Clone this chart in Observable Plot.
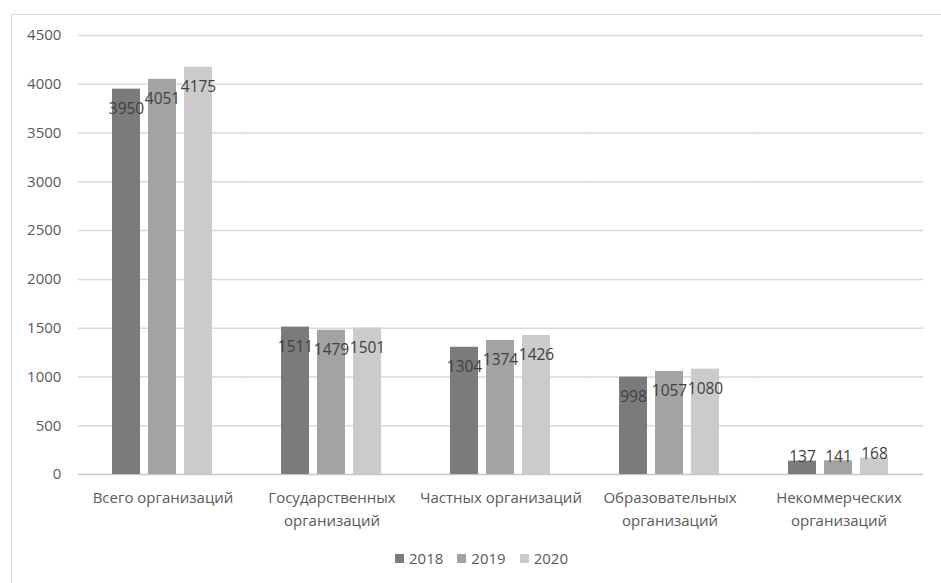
<!DOCTYPE html>
<html>
<head>
<meta charset="utf-8">
<script src="https://cdn.jsdelivr.net/npm/d3@7"></script>
<script src="https://cdn.jsdelivr.net/npm/@observablehq/plot@0.6"></script>
<style>
  html, body { margin: 0; padding: 0; background: #fff; }
  body { width: 941px; height: 583px; position: relative; overflow: hidden; font-family: "Open Sans", sans-serif; }
  #frame { position: absolute; left: 11px; top: 14px; width: 1000px; height: 1000px; border: 1px solid #d9d9d9; box-sizing: border-box; }
  #chart { position: absolute; left: 0; top: 0; }
  #legend { position: absolute; left: 0; top: 548px; width: 941px; height: 20px; display: flex; justify-content: center; align-items: center; padding-left: 22px; box-sizing: border-box; font-size: 15px; color: #595959; }
  .item { display: flex; align-items: center; margin: 0 7px; }
  .sw { width: 9px; height: 9px; margin-right: 5px; }
</style>
</head>
<body>
<div id="frame"></div>
<div id="chart"></div>
<div id="legend"></div>
<script>
const categories = ["Всего организаций", "Государственных организаций", "Частных организаций", "Образовательных организаций", "Некоммерческих организаций"];
const categoryLabels = ["Всего организаций", "Государственных\nорганизаций", "Частных организаций", "Образовательных\nорганизаций", "Некоммерческих\nорганизаций"];
const years = ["2018", "2019", "2020"];
const values2018 = [3950, 1511, 1304, 998, 137];
const values2019 = [4051, 1479, 1374, 1057, 141];
const values2020 = [4175, 1501, 1426, 1080, 168];
const yTicks = [0, 500, 1000, 1500, 2000, 2500, 3000, 3500, 4000, 4500];
const colors = ["#7b7b7b", "#a3a3a3", "#cbcbcb"];

const series = [values2018, values2019, values2020];
const data = [];
categories.forEach((c, i) => years.forEach((y, j) => data.push({category: c, year: y, value: series[j][i]})));
const labelOf = new Map(categories.map((c, i) => [c, categoryLabels[i]]));

const W = 941, ML = 76, MR = 16, PAD = 0.39;
const step = (W - ML - MR) / categories.length;
const gapHalf = (step * PAD) / 2; // extend gridlines across the gaps between groups

const chart = Plot.plot({
  width: W,
  height: 540,
  marginLeft: ML,
  marginRight: MR,
  marginTop: 35,
  marginBottom: 66,
  style: {background: "transparent", fontFamily: "Open Sans, sans-serif"},
  fx: {domain: categories, paddingInner: PAD, paddingOuter: PAD / 2, label: null, axis: null},
  x: {domain: years, paddingInner: 0.21, paddingOuter: 0, axis: null},
  y: {domain: [0, 4500], label: null, axis: null},
  color: {domain: years, range: colors},
  marks: [
    Plot.ruleY(yTicks.filter(d => d > 0), {stroke: "#d9d9d9", strokeWidth: 1.5, insetLeft: -gapHalf, insetRight: -gapHalf}),
    Plot.ruleY([0], {stroke: "#c8c8c8", strokeWidth: 1.5, insetLeft: -gapHalf, insetRight: -gapHalf}),
    Plot.axisY({ticks: yTicks, tickSize: 0, tickPadding: 17 + gapHalf, fontSize: 15, fill: "#595959", label: null, tickFormat: d => String(d)}),
    Plot.axisFx({anchor: "bottom", tickSize: 0, tickPadding: 13, fontSize: 15, fill: "#595959", lineHeight: 1.5, tickFormat: d => labelOf.get(d), label: null}),
    Plot.barY(data, {fx: "category", x: "year", y: "value", fill: "year"}),
    Plot.text(data.filter(d => d.value >= 500), {fx: "category", x: "year", y: "value", text: d => String(d.value), dy: 20, fontSize: 15.5, fill: "#404040"}),
    Plot.text(data.filter(d => d.value < 500), {fx: "category", x: "year", y: "value", text: d => String(d.value), dy: -4, fontSize: 15.5, fill: "#404040"})
  ]
});
document.getElementById("chart").appendChild(chart);

const legend = document.getElementById("legend");
years.forEach((y, j) => {
  const item = document.createElement("div");
  item.className = "item";
  const sw = document.createElement("span");
  sw.className = "sw";
  sw.style.background = colors[j];
  const t = document.createElement("span");
  t.textContent = y;
  item.appendChild(sw);
  item.appendChild(t);
  legend.appendChild(item);
});
</script>
</body>
</html>
